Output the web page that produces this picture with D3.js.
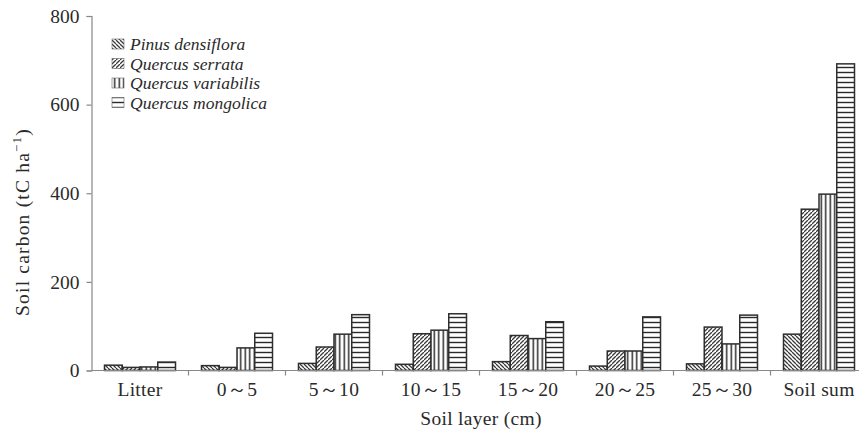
<!DOCTYPE html>
<html><head><meta charset="utf-8">
<script src="https://cdn.jsdelivr.net/npm/d3@7"></script>
<style>body{margin:0;background:#fff}svg{display:block}</style>
</head><body>
<svg id="c" width="859" height="433"></svg>
<script>
const categories = ["Litter","0～5","5～10","10～15","15～20","20～25","25～30","Soil sum"];
const seriesNames = ["Pinus densiflora","Quercus serrata","Quercus variabilis","Quercus mongolica"];
const pinus = [12, 11, 16, 14, 20, 10, 15, 82];
const serrata = [7, 7, 53, 83, 79, 44, 98, 364];
const variabilis = [8, 51, 82, 91, 72, 44, 60, 398];
const mongolica = [19, 84, 126, 128, 110, 121, 125, 692];
const yTicks = [0, 200, 400, 600, 800];
const seriesValues = [pinus, serrata, variabilis, mongolica];

const svg = d3.select("#c");
const font = "'Liberation Serif','Times New Roman',serif";
const ink = "#2a2a2a";

const defs = svg.append("defs");
function pat(id, size, draw){
  const p = defs.append("pattern").attr("id", id).attr("patternUnits","userSpaceOnUse")
    .attr("width", size).attr("height", size);
  p.append("rect").attr("width", size).attr("height", size).attr("fill","#fff");
  draw(p, size);
}
pat("p0", 4, (p,s)=>{ // back diagonal
  p.append("path").attr("d",`M0,0L${s},${s}M${-s},0L0,${s}M${s},${-s}L${2*s},0M0,${-s}L${s},0`)
   .attr("stroke","#3a3a3a").attr("stroke-width",1.3);
});
pat("p1", 4, (p,s)=>{ // forward diagonal
  p.append("path").attr("d",`M0,${s}L${s},0M${-s},${s}L0,0M${s},${2*s}L${2*s},${s}`)
   .attr("stroke","#3a3a3a").attr("stroke-width",1.3);
});
pat("p2", 4.5, (p,s)=>{ // vertical
  p.append("line").attr("x1",s/2).attr("x2",s/2).attr("y1",0).attr("y2",s)
   .attr("stroke","#2a2a2a").attr("stroke-width",1.5);
});
pat("p3", 5, (p,s)=>{ // horizontal
  p.append("line").attr("y1",s/2).attr("y2",s/2).attr("x1",0).attr("x2",s)
   .attr("stroke","#2a2a2a").attr("stroke-width",1.4);
});

const x0 = 91.5, step = 97;
const x = d3.scaleBand().domain(categories).range([x0, x0 + step*categories.length]).padding(0);
const xs = d3.scaleBand().domain(d3.range(seriesNames.length)).range([13, 84]).padding(0);
const y = d3.scaleLinear().domain([0, 800]).range([370.5, 16]);

const g = svg.append("g");
categories.forEach((c, ci) => {
  seriesValues.forEach((vals, si) => {
    g.append("rect")
      .attr("x", x(c) + xs(si))
      .attr("y", y(vals[ci]))
      .attr("width", xs.bandwidth())
      .attr("height", y(0) - y(vals[ci]))
      .attr("fill", `url(#p${si})`)
      .attr("stroke", "#2e2e2e").attr("stroke-width", 1.5);
  });
});

const fs = 19.5;
const yAxis = svg.append("g").attr("transform", `translate(${x0},0)`)
  .call(d3.axisLeft(y).tickValues(yTicks).tickSize(5).tickPadding(7));
yAxis.select(".domain").attr("stroke","#888").attr("stroke-width",1.2);
yAxis.selectAll(".tick line").attr("stroke","#888").attr("stroke-width",1.2);
yAxis.selectAll("text").attr("font-family", font).attr("font-size", fs).attr("fill", ink);

const xg = svg.append("g").attr("transform", `translate(0,${y(0)})`);
xg.append("line").attr("x1", x0).attr("x2", 859).attr("stroke","#888").attr("stroke-width",1.2);
categories.forEach((c, i) => {
  if (i > 0) xg.append("line").attr("x1", x(c)).attr("x2", x(c)).attr("y1", 0).attr("y2", 5)
    .attr("stroke","#888").attr("stroke-width",1.2);
  xg.append("text").attr("x", x(c) + step/2).attr("y", 25)
    .attr("text-anchor","middle").attr("font-family", font).attr("font-size", fs).attr("fill", ink)
    .attr("letter-spacing", 0.3).text(c);
});

svg.append("text").attr("x", 481).attr("y", 425).attr("text-anchor","middle")
  .attr("font-family", font).attr("font-size", fs).attr("fill", ink).attr("letter-spacing", 0.3)
  .text("Soil layer (cm)");
const yt = svg.append("text").attr("transform", "translate(29,222) rotate(-90)")
  .attr("text-anchor","middle").attr("font-family", font).attr("font-size", fs).attr("fill", ink)
  .attr("letter-spacing", 1.2);
yt.append("tspan").text("Soil carbon (tC ha");
yt.append("tspan").attr("dy", -8).attr("font-size", 13).text("−1");
yt.append("tspan").attr("dy", 8).text(")");

const lg = svg.append("g");
seriesNames.forEach((n, i) => {
  const yy = 45 + i * 19.5;
  lg.append("rect").attr("x", 112).attr("y", yy - 6).attr("width", 12).attr("height", 10)
    .attr("fill", `url(#p${i})`).attr("stroke", "#666").attr("stroke-width", 0.6);
  lg.append("text").attr("x", 130).attr("y", yy + 5).attr("font-family", font)
    .attr("font-style","italic").attr("font-size", 17.5).attr("fill", ink).text(n);
});
</script>
</body></html>
